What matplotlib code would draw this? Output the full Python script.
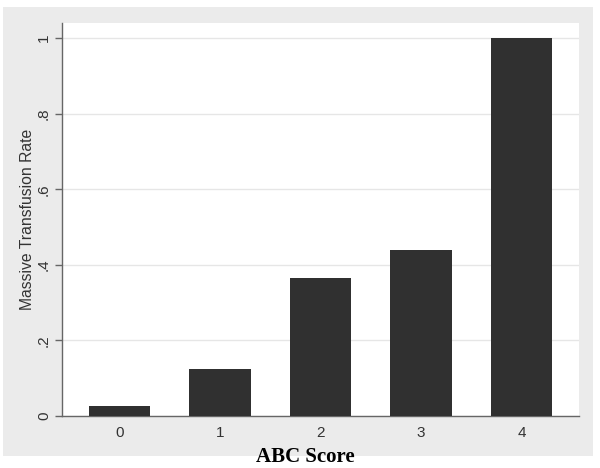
import matplotlib
matplotlib.use("Agg")
import matplotlib.pyplot as plt
from matplotlib.patches import Rectangle

# ABC score vs massive transfusion rate
scores = [0, 1, 2, 3, 4]
rates = [0.026, 0.124, 0.366, 0.439, 1.0]
ytick_vals = [0, 0.2, 0.4, 0.6, 0.8, 1.0]
ytick_labels = ["0", ".2", ".4", ".6", ".8", "1"]

W, H = 600, 468
fig = plt.figure(figsize=(6, 4.68), dpi=100)
fig.patch.set_facecolor("white")

# grey Stata-style background panel
fig.patches.append(Rectangle((3 / W, 1 - 456 / H), 590 / W, 449 / H,
                             transform=fig.transFigure, facecolor="#ebebeb",
                             edgecolor="none", zorder=-1))

ax = fig.add_axes([62 / W, 1 - 416 / H, 517 / W, 393 / H])
ax.set_zorder(1)
ax.set_facecolor("white")
ax.bar(scores, rates, width=0.61, color="#303030", zorder=3)

ax.set_xlim(-0.57, 4.57)
ax.set_ylim(0, 1.04)
ax.set_xticks(scores)
ax.set_xticklabels([str(s) for s in scores], fontsize=11, family="Liberation Sans",
                   color="#333333")
ax.set_yticks(ytick_vals)
ax.set_yticklabels(ytick_labels, fontsize=11, family="Liberation Sans",
                   color="#333333", rotation=90, va="center")
ax.tick_params(axis="x", length=0, pad=7)
ax.tick_params(axis="y", length=5, width=1, color="#666666", pad=3)
ax.yaxis.grid(True, color="#e6e6e6", linewidth=1, zorder=0)

for side in ["top", "right"]:
    ax.spines[side].set_visible(False)
for side in ["left", "bottom"]:
    ax.spines[side].set_color("#666666")
    ax.spines[side].set_linewidth(1)

fig.text(27.5 / W, 1 - 219 / H, "Massive Transfusion Rate", rotation=90,
         ha="center", va="center", fontsize=11.3, family="Liberation Sans",
         color="#333333")

fig.text(305 / W, 1 - 457 / H, "ABC Score", ha="center", va="center",
         fontsize=15, fontweight="bold", family="Liberation Serif", zorder=5)

fig.savefig("out.png", dpi=100)
